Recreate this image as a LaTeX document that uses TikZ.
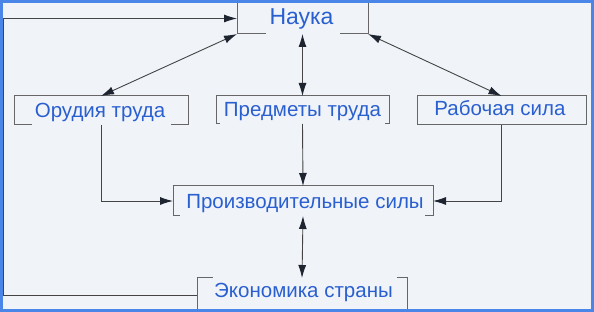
\documentclass[tikz,border=0pt]{standalone}
\usepackage{fontspec}
\setmainfont{Liberation Sans}
\usetikzlibrary{arrows.meta}
\definecolor{bgc}{HTML}{F0F4F9}
\definecolor{framec}{HTML}{4A86E8}
\definecolor{txtc}{HTML}{2A5FD0}
\definecolor{boxc}{HTML}{666666}
\definecolor{linec}{HTML}{444444}
\definecolor{tipc}{HTML}{1E2430}
\begin{document}
\begin{tikzpicture}[x=1pt,y=-1pt,
  box/.style={draw=boxc, line width=1pt, inner sep=0pt, outer sep=0pt},
  lbl/.style={text=txtc, font=\fontsize{20.5}{24}\selectfont, inner sep=0pt, text height=0.72em, text depth=0pt},
  biglbl/.style={lbl, font=\fontsize{23}{26}\selectfont},
  conn/.style={draw=linec, line width=0.9pt},
  bi/.style={conn, {Latex[length=13pt,width=8pt,color=tipc]}-{Latex[length=13pt,width=8pt,color=tipc]}},
  uni/.style={conn, -{Latex[length=13pt,width=8pt,color=tipc]}}
]
\useasboundingbox (0,0) rectangle (594,312);
\fill[bgc] (0,0) rectangle (594,312);

% boxes
\node[box, minimum width=131pt, minimum height=31pt] (nauka) at (302.5,18.5) {};
\node[box, minimum width=174pt, minimum height=29pt] (orud) at (101,110.5) {};
\node[box, minimum width=173pt, minimum height=28pt] (pred) at (302.5,110) {};
\node[box, minimum width=169pt, minimum height=29pt] (rab) at (501.5,110.5) {};
\node[box, minimum width=260pt, minimum height=30pt] (proiz) at (303,201) {};
\node[box, minimum width=210pt, minimum height=34pt] (ekon) at (302,295) {};

% label patches
\fill[bgc] (266,1) rectangle (340,37);
\fill[bgc] (32,100) rectangle (171,128);
\fill[bgc] (220,99) rectangle (385,127);
\fill[bgc] (180,190) rectangle (425,219);
\fill[bgc] (213,276) rectangle (397,312);

% labels
\node[biglbl] (naukat) at (301.5,21) {Наука};
\node[lbl] (orudt) at (100,114) {Орудия труда};
\node[lbl] (predt) at (302.5,113) {Предметы труда};
\node[lbl] (rabt) at (500,112) {Рабочая сила};
\node[lbl] (proizt) at (305,205) {Производительные силы};
\node[lbl] (ekont) at (303.5,294) {Экономика страны};

% connectors
\coordinate (lft) at (3.5,0);
\draw[bi] (nauka.south west) -- (orud.north);
\draw[bi] (nauka.south) -- (pred.north);
\draw[bi] (nauka.south east) -- (rab.north);
\draw[uni] (orud.south) |- (proiz.west);
\draw[uni] (pred.south) -- (proiz.north);
\draw[uni] (rab.south) |- (proiz.east);
\draw[bi] (proiz.south) -- (ekon.north);
\draw[uni] (ekon.west) -- (ekon.west -| lft) |- (nauka.west);

% frame
\draw[framec, line width=3pt] (1.5,1.5) rectangle (592.5,310.5);
\end{tikzpicture}
\end{document}
